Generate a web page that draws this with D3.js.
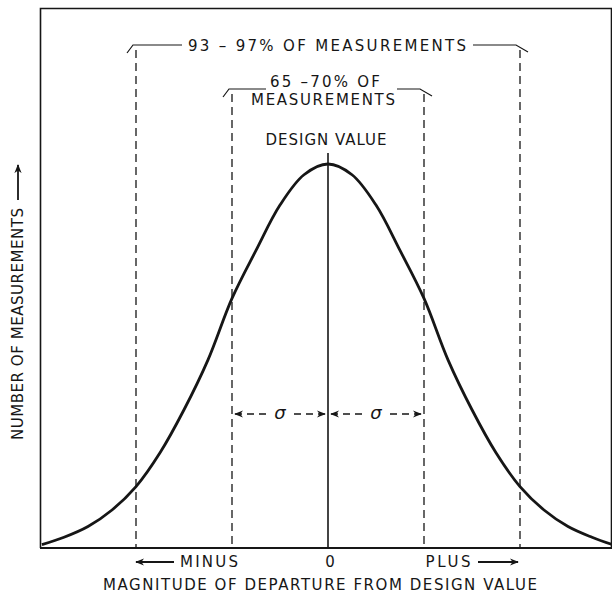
<!DOCTYPE html>
<html>
<head>
<meta charset="utf-8">
<script src="https://cdn.jsdelivr.net/npm/d3@7"></script>
<style>
html,body{margin:0;padding:0;background:#fff;}
svg{display:block;}
text{font-family:"DejaVu Sans",sans-serif;fill:#161616;}
</style>
</head>
<body>
<div id="chart"></div>
<script>
// ---- data (x in standard deviations from design value, y = relative number of measurements) ----
const curveX = [-2.98,-2.75,-2.5,-2.25,-2,-1.75,-1.5,-1.25,-1,-0.75,-0.5,-0.25,0,0.25,0.5,0.75,1,1.25,1.5,1.75,2,2.25,2.5,2.75,2.96];
const curveY = [0.9,2.8,5.6,9.9,16,24.8,36,49,65,77.5,89.3,97.2,100,97.2,89.3,77.5,65,49,36,24.8,16,9.9,5.6,2.8,0.9];
const outerBand = [-2, 2];      // 93-97% band
const innerBand = [-1, 1];      // 65-70% band
const sigmaSpans = [[-1, 0], [0, 1]];
const outerLabel = "93 – 97% OF MEASUREMENTS";
const innerLabel = ["65 –70% OF", "MEASUREMENTS"];
const designLabel = "DESIGN VALUE";
const tickLabels = [{v: 0, t: "0"}];
const minusLabel = "MINUS", plusLabel = "PLUS";
const xTitle = "MAGNITUDE OF DEPARTURE FROM DESIGN VALUE";
const yTitle = "NUMBER OF MEASUREMENTS";

const W = 612, H = 594;
const x = d3.scaleLinear().domain([-3, 3]).range([40, 616]);
const y = d3.scaleLinear().domain([0, 100]).range([548, 164]);

const svg = d3.select("#chart").append("svg").attr("width", W).attr("height", H);
const ink = "#161616";
const FS = 15;

const defs = svg.append("defs");
defs.append("marker").attr("id","ah").attr("viewBox","0 0 10 10").attr("refX",9).attr("refY",5)
  .attr("markerWidth",9).attr("markerHeight",9).attr("orient","auto-start-reverse").attr("markerUnits","userSpaceOnUse")
  .append("path").attr("d","M0,1 L10,5 L0,9 L3,5 Z").attr("fill",ink);

// frame
svg.append("path").attr("d", `M40.5,${y(0)} V8.5 H611.5 V${y(0)}`).attr("fill","none").attr("stroke",ink).attr("stroke-width",1.6);
// baseline
svg.append("line").attr("x1",40).attr("x2",612).attr("y1",y(0)).attr("y2",y(0)).attr("stroke",ink).attr("stroke-width",2);

// dashed band lines
const dash = "8,5";
outerBand.forEach(v => {
  svg.append("line").attr("x1",x(v)).attr("x2",x(v)).attr("y1",50).attr("y2",y(0))
    .attr("stroke",ink).attr("stroke-width",1.3).attr("stroke-dasharray",dash);
});
innerBand.forEach(v => {
  svg.append("line").attr("x1",x(v)).attr("x2",x(v)).attr("y1",94).attr("y2",y(0))
    .attr("stroke",ink).attr("stroke-width",1.3).attr("stroke-dasharray",dash);
});

// brackets
function bracket(v0, v1, yy, gapL, gapR) {
  const a = x(v0), b = x(v1);
  svg.append("path").attr("d", `M${a-9},${yy+8} L${a-3},${yy} H${gapL}`).attr("fill","none").attr("stroke",ink).attr("stroke-width",1.2);
  svg.append("path").attr("d", `M${gapR},${yy} H${b-4} L${b+8},${yy+7}`).attr("fill","none").attr("stroke",ink).attr("stroke-width",1.2);
}
bracket(outerBand[0], outerBand[1], 45, 182, 473);
bracket(innerBand[0], innerBand[1], 89, 266, 397);

// labels
function label(t, cx, by, len) {
  const s = svg.append("text").attr("x", cx).attr("y", by).attr("text-anchor","middle")
    .attr("font-size", FS).text(t);
  if (len) s.attr("textLength", len).attr("lengthAdjust","spacing");
}
label(outerLabel, 327, 51, 278);
label(innerLabel[0], 325, 87, 110);
label(innerLabel[1], 323, 105, 144);
label(designLabel, 326, 145, 121);

// center design-value line
svg.append("line").attr("x1",x(0)).attr("x2",x(0)).attr("y1",153).attr("y2",y(0)).attr("stroke",ink).attr("stroke-width",1.6);

// curve
const pts = curveX.map((v,i) => [v, curveY[i]]);
svg.append("path").datum(pts)
  .attr("d", d3.line().x(d => x(d[0])).y(d => y(d[1])).curve(d3.curveCatmullRom.alpha(0.5)))
  .attr("fill","none").attr("stroke",ink).attr("stroke-width",2.8);

// sigma arrows
const sy = 414;
sigmaSpans.forEach(([v0, v1]) => {
  const a = x(v0) + 3, b = x(v1) - 3, m = (a + b) / 2;
  svg.append("line").attr("x1", m - 14).attr("x2", a).attr("y1", sy).attr("y2", sy)
    .attr("stroke", ink).attr("stroke-width", 1.3).attr("stroke-dasharray", "7,5").attr("marker-end","url(#ah)");
  svg.append("line").attr("x1", m + 14).attr("x2", b).attr("y1", sy).attr("y2", sy)
    .attr("stroke", ink).attr("stroke-width", 1.3).attr("stroke-dasharray", "7,5").attr("marker-end","url(#ah)");
  svg.append("text").attr("x", m).attr("y", sy + 5).attr("text-anchor","middle")
    .attr("font-size", 18).attr("font-style","italic").attr("font-family","DejaVu Serif, serif").text("σ");
});

// bottom axis labels
tickLabels.forEach(d => label(d.t, x(d.v) + 2, 567, null));
label(minusLabel, 209, 567, 58);
label(plusLabel, 448, 567, 45);
svg.append("line").attr("x1",174).attr("x2",136).attr("y1",562).attr("y2",562).attr("stroke",ink).attr("stroke-width",1.8).attr("marker-end","url(#ah)");
svg.append("line").attr("x1",478).attr("x2",518).attr("y1",562).attr("y2",562).attr("stroke",ink).attr("stroke-width",1.8).attr("marker-end","url(#ah)");
label(xTitle, 320, 590, 434);

// y title
const yt = svg.append("g").attr("transform", "translate(23,440) rotate(-90)");
yt.append("text").attr("x",0).attr("y",0).attr("font-size",FS).attr("textLength",232).attr("lengthAdjust","spacing").text(yTitle);
yt.append("line").attr("x1",240).attr("x2",275).attr("y1",-5).attr("y2",-5).attr("stroke",ink).attr("stroke-width",1.8).attr("marker-end","url(#ah)");
</script>
</body>
</html>
